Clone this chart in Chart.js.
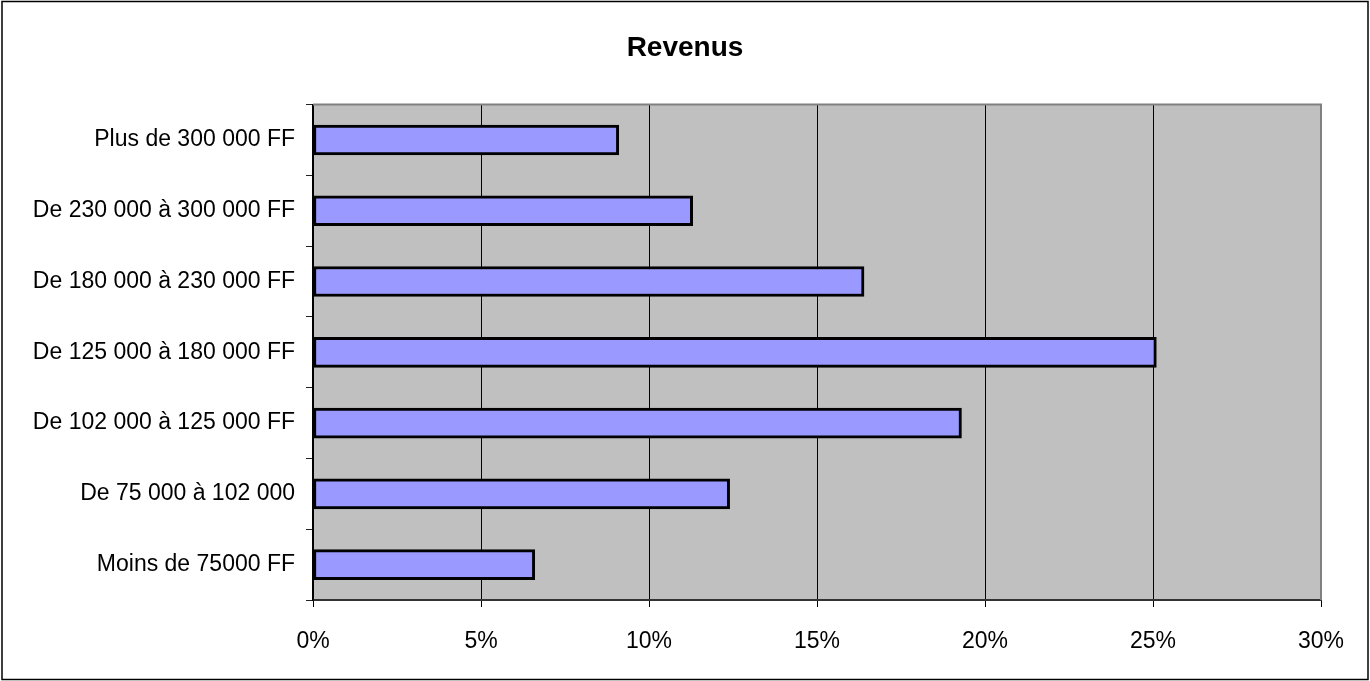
<!DOCTYPE html>
<html>
<head>
<meta charset="utf-8">
<script src="https://cdn.jsdelivr.net/npm/chart.js@4/dist/chart.umd.min.js"></script>
<style>
  html, body { margin: 0; padding: 0; background: #fff; }
  #wrap { width: 1370px; height: 681px; }
</style>
</head>
<body>
<div id="wrap"><canvas id="chart" width="1370" height="681"></canvas></div>
<script>
const categories = [
  'Plus de 300 000 FF',
  'De 230 000 à 300 000 FF',
  'De 180 000 à 230 000 FF',
  'De 125 000 à 180 000 FF',
  'De 102 000 à 125 000 FF',
  'De 75 000 à 102 000',
  'Moins de 75000 FF'
]
const revenus = [9.1, 11.3, 16.4, 25.1, 19.3, 12.4, 6.6]
const xTicks = [0, 5, 10, 15, 20, 25, 30]

// plot background, frame around the whole picture, top/right plot border
const frame = {
  id: 'frame',
  beforeDraw(chart) {
    const { ctx, chartArea: a } = chart
    ctx.save()
    ctx.fillStyle = '#c0c0c0'
    ctx.fillRect(a.left, a.top, a.right - a.left, a.bottom - a.top)
    ctx.restore()
  },
  afterDraw(chart) {
    const { ctx, chartArea: a } = chart
    ctx.save()
    ctx.strokeStyle = '#808080'
    ctx.lineWidth = 2
    ctx.beginPath()
    ctx.moveTo(a.left, a.top)
    ctx.lineTo(a.right, a.top)
    ctx.lineTo(a.right, a.bottom)
    ctx.stroke()
    ctx.strokeStyle = '#000'
    ctx.lineWidth = 1.5
    ctx.strokeRect(2, 1.5, 1366, 678)
    ctx.restore()
  }
}

new Chart(document.getElementById('chart').getContext('2d'), {
  type: 'bar',
  data: {
    labels: categories,
    datasets: [{
      label: 'Revenus',
      data: revenus,
      backgroundColor: '#9999ff',
      borderColor: '#000',
      borderWidth: 3,
      borderSkipped: false,
      barThickness: 30
    }]
  },
  options: {
    indexAxis: 'y',
    responsive: false,
    animation: false,
    layout: { padding: 0 },
    plugins: {
      legend: { display: false },
      tooltip: { enabled: false },
      title: {
        display: true,
        text: 'Revenus',
        color: '#000',
        font: { family: 'Liberation Sans, Arial', size: 28, weight: 'bold' },
        padding: { top: 31, bottom: 40 }
      }
    },
    scales: {
      x: {
        min: 0,
        max: 30,
        afterBuildTicks(scale) {
          scale.ticks = xTicks.map(v => ({ value: v }))
        },
        afterFit(scale) { scale.height = 81 },
        grid: {
          color: '#000',
          lineWidth: 1,
          tickLength: 7,
          drawTicks: true
        },
        border: { display: true, color: '#333', width: 2 },
        ticks: {
          color: '#000',
          padding: 21,
          maxRotation: 0,
          font: { family: 'Liberation Sans, Arial', size: 23 },
          callback: v => v + '%'
        }
      },
      y: {
        afterFit(scale) { scale.width = 313 },
        grid: {
          offset: true,
          drawOnChartArea: false,
          drawTicks: true,
          tickLength: 7,
          color: '#222'
        },
        border: { display: true, color: '#000', width: 1.5 },
        ticks: {
          color: '#000',
          padding: 11,
          font: { family: 'Liberation Sans, Arial', size: 23 }
        }
      },
      // empty right-hand margin so the title stays centred on the page
      margin: {
        type: 'linear',
        position: 'right',
        afterFit(scale) { scale.width = 49 },
        grid: { display: false },
        border: { display: false },
        ticks: { display: false }
      }
    }
  },
  plugins: [frame]
})
</script>
</body>
</html>
